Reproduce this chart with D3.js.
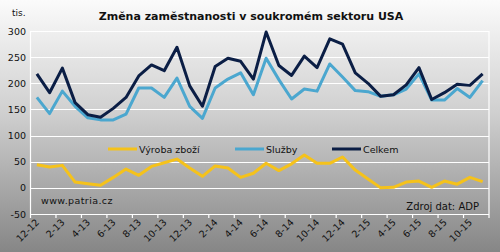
<!DOCTYPE html>
<html>
<head>
<meta charset="utf-8">
<script src="https://cdn.jsdelivr.net/npm/d3@7"></script>
<style>
  body { margin: 0; }
  svg { display: block; font-family: "DejaVu Sans", Verdana, sans-serif; }
</style>
</head>
<body>
<svg id="chart" width="500" height="252"></svg>
<script>
var months = ['12-12','1-13','2-13','3-13','4-13','5-13','6-13','7-13','8-13','9-13','10-13','11-13',
              '12-13','1-14','2-14','3-14','4-14','5-14','6-14','7-14','8-14','9-14','10-14','11-14',
              '12-14','1-15','2-15','3-15','4-15','5-15','6-15','7-15','8-15','9-15','10-15','11-15'];

var vyroba  = [44, 40, 43, 11, 8, 5, 20, 36, 24, 41, 48, 55, 38, 22, 42, 38, 20, 28,
               47, 33, 46, 63, 47, 47, 59, 34, 17, 0, 1, 11, 13, 1, 13, 7, 20, 12];
var sluzby  = [173, 142, 185, 156, 134, 130, 130, 141, 191, 191, 173, 210, 156, 133, 191, 208, 220, 178,
               248, 207, 170, 189, 185, 237, 212, 186, 184, 175, 178, 189, 218, 168, 168, 190, 173, 205];
var celkem  = [218, 182, 229, 163, 140, 135, 152, 173, 214, 235, 224, 269, 195, 156, 232, 248, 242, 208,
               298, 234, 215, 252, 230, 285, 275, 220, 200, 175, 178, 197, 230, 169, 182, 198, 196, 218];

var yTicks = [-50, 0, 50, 100, 150, 200, 250, 300];

var series = [
  {name: 'Výroba zboží', values: vyroba, color: '#f5c21b'},
  {name: 'Služby', values: sluzby, color: '#4ba7cf'},
  {name: 'Celkem', values: celkem, color: '#0b1e45'}
];

var svg = d3.select('#chart');
var width = 500, height = 252;
var margin = {left: 30.5, right: 11, top: 31, bottom: 38};

var defs = svg.append('defs');
var grad = defs.append('linearGradient')
    .attr('id', 'bg').attr('x1', 0).attr('y1', 0).attr('x2', 0).attr('y2', 1);
grad.append('stop').attr('offset', '0%').attr('stop-color', '#fbfbfb');
grad.append('stop').attr('offset', '45%').attr('stop-color', '#cfcfcf');
grad.append('stop').attr('offset', '100%').attr('stop-color', '#868686');

svg.append('rect').attr('width', width).attr('height', height).attr('fill', 'url(#bg)');

var x = d3.scaleBand()
    .domain(months)
    .range([margin.left, width - margin.right]);

var y = d3.scaleLinear()
    .domain([-50, 300])
    .range([height - margin.bottom, margin.top]);

// grid
svg.append('g').selectAll('line')
    .data(yTicks)
    .enter().append('line')
    .attr('x1', margin.left).attr('x2', width - margin.right)
    .attr('y1', function(d){ return Math.round(y(d)) + 0.5; })
    .attr('y2', function(d){ return Math.round(y(d)) + 0.5; })
    .attr('stroke', '#fff').attr('stroke-width', 1.2);

// plot border left/right
svg.append('line')
    .attr('x1', margin.left).attr('x2', margin.left)
    .attr('y1', y(300)).attr('y2', y(-50))
    .attr('stroke', '#fff').attr('stroke-width', 1.2);
svg.append('line')
    .attr('x1', width - margin.right).attr('x2', width - margin.right)
    .attr('y1', y(300)).attr('y2', y(-50))
    .attr('stroke', '#fff').attr('stroke-width', 1.2);

// y labels
svg.append('g').selectAll('text')
    .data(yTicks)
    .enter().append('text')
    .attr('x', 26)
    .attr('y', function(d){ return y(d) + 3.5; })
    .attr('text-anchor', 'end')
    .attr('font-size', 9.5)
    .attr('fill', '#111')
    .text(function(d){ return d; });

// x ticks every 2 months, at band starts
var xTickIdx = d3.range(0, months.length + 1, 2);
svg.append('g').selectAll('line')
    .data(xTickIdx)
    .enter().append('line')
    .attr('x1', function(i){ return margin.left + i * x.step(); })
    .attr('x2', function(i){ return margin.left + i * x.step(); })
    .attr('y1', y(-50)).attr('y2', y(-50) + 4)
    .attr('stroke', '#fff').attr('stroke-width', 1.2);

svg.append('g').selectAll('text')
    .data(months.filter(function(d, i){ return i % 2 === 0; }))
    .enter().append('text')
    .attr('text-anchor', 'end')
    .attr('font-size', 9.5)
    .attr('fill', '#111')
    .attr('transform', function(d){
      var px = x(d) + x.bandwidth() / 2 + 3;
      return 'translate(' + px + ',' + (y(-50) + 9) + ') rotate(-45)';
    })
    .text(function(d){ return d; });

// lines
var line = d3.line()
    .x(function(d, i){ return x(months[i]) + x.bandwidth() / 2; })
    .y(function(d){ return y(d); });

svg.append('g').selectAll('path')
    .data(series)
    .enter().append('path')
    .attr('d', function(s){ return line(s.values); })
    .attr('fill', 'none')
    .attr('stroke', function(s){ return s.color; })
    .attr('stroke-width', 3)
    .attr('stroke-linejoin', 'round');

// legend
var legendX = [108, 235, 332];
var lg = svg.append('g').selectAll('g')
    .data(series)
    .enter().append('g')
    .attr('transform', function(s, i){ return 'translate(' + legendX[i] + ',149)'; });
lg.append('line')
    .attr('x1', 0).attr('x2', 29)
    .attr('stroke', function(s){ return s.color; })
    .attr('stroke-width', 3);
lg.append('text')
    .attr('x', 31).attr('y', 3.5)
    .attr('font-size', 9.5)
    .attr('fill', '#111')
    .text(function(s){ return s.name; });

// titles and notes
svg.append('text')
    .attr('x', 251).attr('y', 20)
    .attr('text-anchor', 'middle')
    .attr('font-size', 11)
    .attr('font-weight', 'bold')
    .attr('fill', '#111')
    .text('Změna zaměstnanosti v soukromém sektoru USA');
svg.append('text')
    .attr('x', 12).attr('y', 16)
    .attr('font-size', 9)
    .attr('fill', '#111')
    .text('tis.');
svg.append('text')
    .attr('x', 41).attr('y', 204)
    .attr('font-size', 9.5)
    .attr('letter-spacing', 0.4)
    .attr('fill', '#111')
    .text('www.patria.cz');
svg.append('text')
    .attr('x', 479).attr('y', 210)
    .attr('text-anchor', 'end')
    .attr('font-size', 10)
    .attr('fill', '#111')
    .text('Zdroj dat: ADP');
</script>
</body>
</html>
